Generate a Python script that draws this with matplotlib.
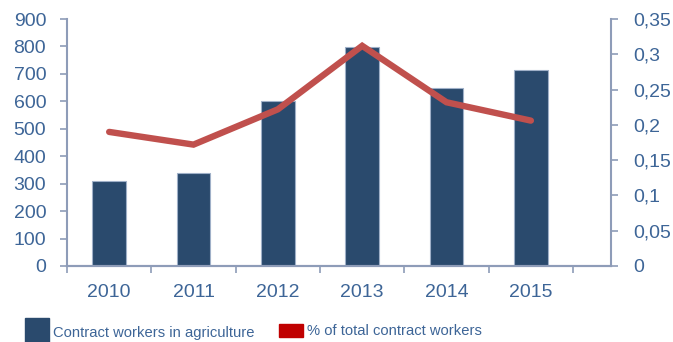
import matplotlib.pyplot as plt
from matplotlib.patches import Rectangle
from matplotlib.ticker import FuncFormatter
import numpy as np

plt.rcParams['font.family'] = ['Liberation Sans', 'DejaVu Sans']

# DATA
years = ["2010", "2011", "2012", "2013", "2014", "2015"]
workers = [310, 339, 601, 797, 647, 714]
share = [0.19, 0.172, 0.222, 0.312, 0.232, 0.206]

bar_color = "#2a4a6d"
line_color = "#c0504d"
axis_color = "#8e9cb8"
text_color = "#3d6597"

fig = plt.figure(figsize=(6.73, 3.42), dpi=100)
ax = fig.add_axes([67 / 673, 76 / 342, 544 / 673, 247 / 342])
x = np.arange(len(years))

ax.bar(x, workers, width=0.4, color=bar_color, edgecolor="#9fb0c8", linewidth=0.8, zorder=2)
ax.set_ylim(0, 900)
ax.set_yticks(range(0, 901, 100))
ax.set_xlim(-0.5, 5.95)
ax.set_xticks(np.arange(-0.5, 5.6, 1), minor=False)
ax.set_xticklabels([])
ax.set_xticks(x, minor=True)
ax.set_xticklabels(years, minor=True)
ax.tick_params(axis="x", which="minor", length=0, pad=13, labelsize=14, labelcolor=text_color)
ax.tick_params(axis="x", which="major", length=5, width=1.2, color=axis_color, direction="out")
ax.tick_params(axis="y", length=5, width=1.2, color=axis_color, pad=10,
               labelsize=14, labelcolor=text_color)

ax2 = ax.twinx()
ax2.plot(x, share, color=line_color, linewidth=4.6, solid_capstyle="round",
         solid_joinstyle="miter", zorder=3)
ax2.set_ylim(0, 0.35)
ax2.set_yticks(np.arange(0, 0.351, 0.05))
ax2.yaxis.set_major_formatter(FuncFormatter(lambda v, p: f"{v:.2f}".rstrip("0").rstrip(".").replace(".", ",") if v else "0"))
ax2.tick_params(axis="y", length=5, width=1.2, color=axis_color, pad=11,
                labelsize=14, labelcolor=text_color)

for a in (ax, ax2):
    a.spines["top"].set_visible(False)
    for s in ("left", "right", "bottom"):
        a.spines[s].set_color(axis_color)
        a.spines[s].set_linewidth(1.5)
ax.spines["right"].set_visible(False)
ax2.spines["left"].set_visible(False)

# legend
fig.add_artist(Rectangle((25 / 673, 0), 24 / 673, 24 / 342, transform=fig.transFigure,
                         color=bar_color))
fig.text(53 / 673, 9 / 342, "Contract workers in agriculture", fontsize=10.6,
         color=text_color, va="center")
fig.add_artist(Rectangle((279 / 673, 5 / 342), 24 / 673, 13 / 342, transform=fig.transFigure,
                         color="#c00000"))
fig.text(307 / 673, 11 / 342, "% of total contract workers", fontsize=10.6,
         color=text_color, va="center")

fig.savefig("out.png", dpi=100)
